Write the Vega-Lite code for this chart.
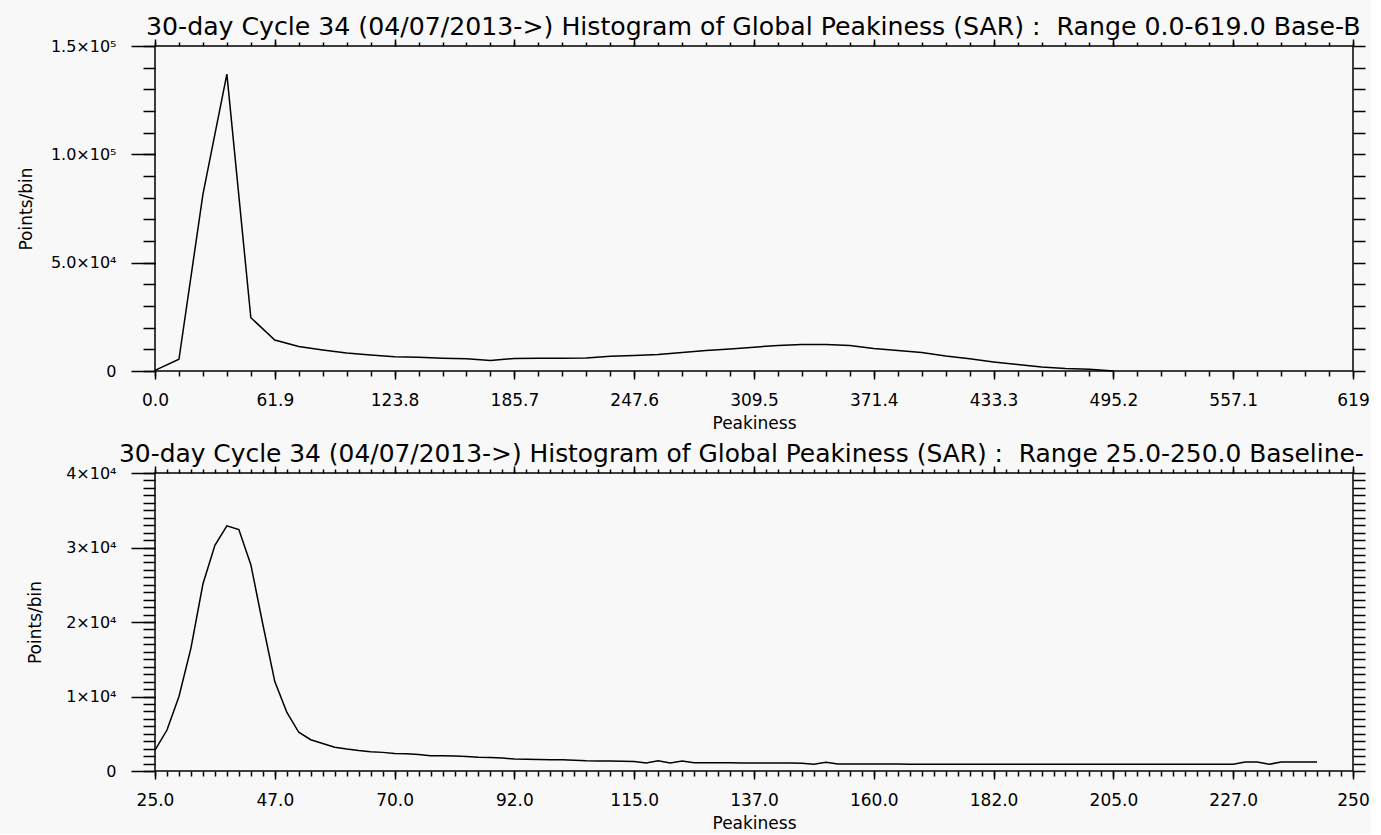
{
  "$schema": "https://vega.github.io/schema/vega-lite/v6.json",
  "background": "#f8f8f8",
  "padding": {"left": 16, "top": 14, "right": 1, "bottom": 2},
  "config": {
    "font": "DejaVu Sans",
    "view": {"stroke": "black", "strokeWidth": 1.5, "fill": null},
    "axis": {"domain": false, "grid": false, "minExtent": 0, "tickColor": "black", "tickWidth": 1.5, "labelColor": "black", "titleColor": "black", "labelFont": "DejaVu Sans", "labelFontSize": 16, "titleFont": "DejaVu Sans", "titleFontSize": 17, "titleFontWeight": "normal", "labelFlush": false, "labelOverlap": false},
    "axisX": {"labelFontSize": 17},
    "title": {"fontWeight": "normal", "color": "black", "anchor": "start", "frame": "group", "font": "DejaVu Sans"}
  },
  "datasets": {
    "top": [
      {"x": 0, "y": 300}, {"x": 12.38, "y": 5400}, {"x": 24.76, "y": 81500}, {"x": 37.14, "y": 137000},
      {"x": 49.52, "y": 24600}, {"x": 61.9, "y": 14300}, {"x": 74.28, "y": 11300}, {"x": 86.66, "y": 9700},
      {"x": 99.04, "y": 8300}, {"x": 111.42, "y": 7400}, {"x": 123.8, "y": 6600}, {"x": 136.18, "y": 6300},
      {"x": 148.56, "y": 5900}, {"x": 160.94, "y": 5600}, {"x": 173.32, "y": 4900}, {"x": 185.7, "y": 5800},
      {"x": 198.08, "y": 5900}, {"x": 210.46, "y": 5900}, {"x": 222.84, "y": 6000}, {"x": 235.22, "y": 6800},
      {"x": 247.6, "y": 7200}, {"x": 259.98, "y": 7600}, {"x": 272.36, "y": 8500}, {"x": 284.74, "y": 9500},
      {"x": 297.12, "y": 10200}, {"x": 309.5, "y": 11000}, {"x": 321.88, "y": 11800}, {"x": 334.26, "y": 12200},
      {"x": 346.64, "y": 12200}, {"x": 359.02, "y": 11800}, {"x": 371.4, "y": 10400}, {"x": 383.78, "y": 9500},
      {"x": 396.16, "y": 8500}, {"x": 408.54, "y": 6900}, {"x": 420.92, "y": 5600}, {"x": 433.3, "y": 4200},
      {"x": 445.68, "y": 3000}, {"x": 458.06, "y": 1800}, {"x": 470.44, "y": 1100}, {"x": 482.82, "y": 800},
      {"x": 495.2, "y": 0}
    ],
    "bottom": [
      {"x": 25, "y": 2800}, {"x": 27.25, "y": 5500}, {"x": 29.5, "y": 10000}, {"x": 31.75, "y": 16500},
      {"x": 34, "y": 25100}, {"x": 36.25, "y": 30300}, {"x": 38.5, "y": 32900}, {"x": 40.75, "y": 32400},
      {"x": 43, "y": 27700}, {"x": 45.25, "y": 19700}, {"x": 47.5, "y": 12000}, {"x": 49.75, "y": 7900},
      {"x": 52, "y": 5200}, {"x": 54.25, "y": 4200}, {"x": 56.5, "y": 3700}, {"x": 58.75, "y": 3200},
      {"x": 61, "y": 2950}, {"x": 63.25, "y": 2750}, {"x": 65.5, "y": 2600}, {"x": 67.75, "y": 2500},
      {"x": 70, "y": 2350}, {"x": 72.25, "y": 2300}, {"x": 74.5, "y": 2200}, {"x": 76.75, "y": 2050},
      {"x": 79, "y": 2050}, {"x": 81.25, "y": 2000}, {"x": 83.5, "y": 1950}, {"x": 85.75, "y": 1850},
      {"x": 88, "y": 1800}, {"x": 90.25, "y": 1750}, {"x": 92.5, "y": 1600}, {"x": 94.75, "y": 1570},
      {"x": 97, "y": 1550}, {"x": 99.25, "y": 1520}, {"x": 101.5, "y": 1500}, {"x": 103.75, "y": 1450},
      {"x": 106, "y": 1370}, {"x": 108.25, "y": 1340}, {"x": 110.5, "y": 1330}, {"x": 112.75, "y": 1300},
      {"x": 115, "y": 1280}, {"x": 117.25, "y": 1080}, {"x": 119.5, "y": 1380}, {"x": 121.75, "y": 1080},
      {"x": 124, "y": 1340}, {"x": 126.25, "y": 1120}, {"x": 128.5, "y": 1100}, {"x": 130.75, "y": 1100},
      {"x": 133, "y": 1100}, {"x": 135.25, "y": 1090}, {"x": 137.5, "y": 1080}, {"x": 139.75, "y": 1080},
      {"x": 142, "y": 1070}, {"x": 144.25, "y": 1060}, {"x": 146.5, "y": 1050}, {"x": 148.75, "y": 900},
      {"x": 151, "y": 1170}, {"x": 153.25, "y": 950}, {"x": 155.5, "y": 940}, {"x": 157.75, "y": 930},
      {"x": 160, "y": 930}, {"x": 162.25, "y": 930}, {"x": 164.5, "y": 930}, {"x": 166.75, "y": 920},
      {"x": 169, "y": 920}, {"x": 171.25, "y": 920}, {"x": 173.5, "y": 920}, {"x": 175.75, "y": 910},
      {"x": 178, "y": 910}, {"x": 180.25, "y": 910}, {"x": 182.5, "y": 910}, {"x": 184.75, "y": 900},
      {"x": 187, "y": 900}, {"x": 189.25, "y": 900}, {"x": 191.5, "y": 900}, {"x": 193.75, "y": 900},
      {"x": 196, "y": 900}, {"x": 198.25, "y": 900}, {"x": 200.5, "y": 900}, {"x": 202.75, "y": 900},
      {"x": 205, "y": 900}, {"x": 207.25, "y": 900}, {"x": 209.5, "y": 900}, {"x": 211.75, "y": 900},
      {"x": 214, "y": 900}, {"x": 216.25, "y": 900}, {"x": 218.5, "y": 900}, {"x": 220.75, "y": 900},
      {"x": 223, "y": 900}, {"x": 225.25, "y": 900}, {"x": 227.5, "y": 900}, {"x": 229.75, "y": 1200},
      {"x": 232, "y": 1200}, {"x": 234.25, "y": 900}, {"x": 236.5, "y": 1200}, {"x": 238.75, "y": 1200},
      {"x": 241, "y": 1200}, {"x": 243.25, "y": 1200}
    ]
  },
  "bounds": "flush",
  "spacing": 102,
  "vconcat": [
    {
      "width": 1198,
      "height": 325,
      "title": {"text": "30-day Cycle 34 (04/07/2013->) Histogram of Global Peakiness (SAR) :\u00a0 Range 0.0-619.0 Base-B", "dx": -9, "offset": -22, "baseline": "alphabetic", "fontSize": 25.2},
      "data": {"name": "top"},
      "layer": [
        {
          "mark": {"type": "line", "color": "black", "strokeWidth": 1.5},
          "encoding": {
            "x": {"field": "x", "type": "quantitative", "scale": {"domain": [0, 619], "nice": false, "zero": false},
              "axis": {"orient": "bottom", "values": [0, 61.9, 123.8, 185.7, 247.6, 309.5, 371.4, 433.3, 495.2, 557.1, 619], "tickSize": 8, "labelPadding": 13, "title": "Peakiness", "titlePadding": 7, "labelExpr": "datum.value >= 619 ? '619' : format(datum.value, '.1f')"}},
            "y": {"field": "y", "type": "quantitative", "scale": {"domain": [0, 150000], "nice": false},
              "axis": {"orient": "left", "values": [0, 50000, 100000, 150000], "tickSize": 24, "labelPadding": 15, "title": "Points/bin", "titlePadding": 15, "labelExpr": "datum.value == 0 ? '0' : (datum.value >= 100000 ? format(datum.value/100000, '.1f') + '×10⁵' : format(datum.value/10000, '.1f') + '×10⁴')"}}
          }
        },
        {
          "mark": {"type": "line", "strokeOpacity": 0},
          "encoding": {
            "x": {"field": "x", "type": "quantitative", "scale": {"domain": [0, 619], "nice": false, "zero": false},
              "axis": {"orient": "bottom", "values": [0,12.38,24.76,37.14,49.52,61.9,74.28,86.66,99.04,111.42,123.8,136.18,148.56,160.94,173.32,185.7,198.08,210.46,222.84,235.22,247.6,259.98,272.36,284.74,297.12,309.5,321.88,334.26,346.64,359.02,371.4,383.78,396.16,408.54,420.92,433.3,445.68,458.06,470.44,482.82,495.2,507.58,519.96,532.34,544.72,557.1,569.48,581.86,594.24,606.62,619], "tickSize": 5, "labels": false, "title": null}},
            "y": {"field": "y", "type": "quantitative", "scale": {"domain": [0, 150000], "nice": false},
              "axis": {"orient": "left", "values": [0,10000,20000,30000,40000,50000,60000,70000,80000,90000,100000,110000,120000,130000,140000,150000], "tickSize": 12, "labels": false, "title": null}}
          }
        },
        {
          "mark": {"type": "line", "strokeOpacity": 0},
          "encoding": {
            "x": {"field": "x", "type": "quantitative", "scale": {"domain": [0, 619], "nice": false, "zero": false},
              "axis": {"orient": "top", "values": [0, 61.9, 123.8, 185.7, 247.6, 309.5, 371.4, 433.3, 495.2, 557.1, 619], "tickSize": 7, "labels": false, "title": null}},
            "y": {"field": "y", "type": "quantitative", "scale": {"domain": [0, 150000], "nice": false},
              "axis": {"orient": "right", "values": [0,10000,20000,30000,40000,50000,60000,70000,80000,90000,100000,110000,120000,130000,140000,150000], "tickSize": 12, "labels": false, "title": null}}
          }
        },
        {
          "mark": {"type": "line", "strokeOpacity": 0},
          "encoding": {
            "x": {"field": "x", "type": "quantitative", "scale": {"domain": [0, 619], "nice": false, "zero": false},
              "axis": {"orient": "top", "values": [0,12.38,24.76,37.14,49.52,61.9,74.28,86.66,99.04,111.42,123.8,136.18,148.56,160.94,173.32,185.7,198.08,210.46,222.84,235.22,247.6,259.98,272.36,284.74,297.12,309.5,321.88,334.26,346.64,359.02,371.4,383.78,396.16,408.54,420.92,433.3,445.68,458.06,470.44,482.82,495.2,507.58,519.96,532.34,544.72,557.1,569.48,581.86,594.24,606.62,619], "tickSize": 4, "labels": false, "title": null}},
            "y": {"field": "y", "type": "quantitative", "scale": {"domain": [0, 150000], "nice": false}, "axis": null}
          }
        }
      ],
      "resolve": {"axis": {"x": "independent", "y": "independent"}}
    },
    {
      "width": 1198,
      "height": 298,
      "title": {"text": "30-day Cycle 34 (04/07/2013->) Histogram of Global Peakiness (SAR) :\u00a0 Range 25.0-250.0 Baseline-", "dx": -36, "offset": -22, "baseline": "alphabetic", "fontSize": 24.9},
      "data": {"name": "bottom"},
      "layer": [
        {
          "mark": {"type": "line", "color": "black", "strokeWidth": 1.5},
          "encoding": {
            "x": {"field": "x", "type": "quantitative", "scale": {"domain": [25, 250], "nice": false, "zero": false},
              "axis": {"orient": "bottom", "values": [25, 47.5, 70, 92.5, 115, 137.5, 160, 182.5, 205, 227.5, 250], "tickSize": 8, "labelPadding": 13, "title": "Peakiness", "titlePadding": 7, "labelExpr": "datum.value >= 250 ? '250' : format(floor(datum.value), '.1f')"}},
            "y": {"field": "y", "type": "quantitative", "scale": {"domain": [0, 40000], "nice": false},
              "axis": {"orient": "left", "values": [0, 10000, 20000, 30000, 40000], "tickSize": 24, "labelPadding": 15, "title": "Points/bin", "titlePadding": 21, "labelExpr": "datum.value == 0 ? '0' : format(datum.value/10000, 'd') + '×10⁴'"}}
          }
        },
        {
          "mark": {"type": "line", "strokeOpacity": 0},
          "encoding": {
            "x": {"field": "x", "type": "quantitative", "scale": {"domain": [25, 250], "nice": false, "zero": false},
              "axis": {"orient": "bottom", "values": [25,27.25,29.5,31.75,34,36.25,38.5,40.75,43,45.25,47.5,49.75,52,54.25,56.5,58.75,61,63.25,65.5,67.75,70,72.25,74.5,76.75,79,81.25,83.5,85.75,88,90.25,92.5,94.75,97,99.25,101.5,103.75,106,108.25,110.5,112.75,115,117.25,119.5,121.75,124,126.25,128.5,130.75,133,135.25,137.5,139.75,142,144.25,146.5,148.75,151,153.25,155.5,157.75,160,162.25,164.5,166.75,169,171.25,173.5,175.75,178,180.25,182.5,184.75,187,189.25,191.5,193.75,196,198.25,200.5,202.75,205,207.25,209.5,211.75,214,216.25,218.5,220.75,223,225.25,227.5,229.75,232,234.25,236.5,238.75,241,243.25,245.5,247.75,250], "tickSize": 5, "labels": false, "title": null}},
            "y": {"field": "y", "type": "quantitative", "scale": {"domain": [0, 40000], "nice": false},
              "axis": {"orient": "left", "values": [0,1000,2000,3000,4000,5000,6000,7000,8000,9000,10000,11000,12000,13000,14000,15000,16000,17000,18000,19000,20000,21000,22000,23000,24000,25000,26000,27000,28000,29000,30000,31000,32000,33000,34000,35000,36000,37000,38000,39000,40000], "tickSize": 12, "labels": false, "title": null}}
          }
        },
        {
          "mark": {"type": "line", "strokeOpacity": 0},
          "encoding": {
            "x": {"field": "x", "type": "quantitative", "scale": {"domain": [25, 250], "nice": false, "zero": false},
              "axis": {"orient": "top", "values": [25, 47.5, 70, 92.5, 115, 137.5, 160, 182.5, 205, 227.5, 250], "tickSize": 7, "labels": false, "title": null}},
            "y": {"field": "y", "type": "quantitative", "scale": {"domain": [0, 40000], "nice": false},
              "axis": {"orient": "right", "values": [0,1000,2000,3000,4000,5000,6000,7000,8000,9000,10000,11000,12000,13000,14000,15000,16000,17000,18000,19000,20000,21000,22000,23000,24000,25000,26000,27000,28000,29000,30000,31000,32000,33000,34000,35000,36000,37000,38000,39000,40000], "tickSize": 12, "labels": false, "title": null}}
          }
        },
        {
          "mark": {"type": "line", "strokeOpacity": 0},
          "encoding": {
            "x": {"field": "x", "type": "quantitative", "scale": {"domain": [25, 250], "nice": false, "zero": false},
              "axis": {"orient": "top", "values": [25,27.25,29.5,31.75,34,36.25,38.5,40.75,43,45.25,47.5,49.75,52,54.25,56.5,58.75,61,63.25,65.5,67.75,70,72.25,74.5,76.75,79,81.25,83.5,85.75,88,90.25,92.5,94.75,97,99.25,101.5,103.75,106,108.25,110.5,112.75,115,117.25,119.5,121.75,124,126.25,128.5,130.75,133,135.25,137.5,139.75,142,144.25,146.5,148.75,151,153.25,155.5,157.75,160,162.25,164.5,166.75,169,171.25,173.5,175.75,178,180.25,182.5,184.75,187,189.25,191.5,193.75,196,198.25,200.5,202.75,205,207.25,209.5,211.75,214,216.25,218.5,220.75,223,225.25,227.5,229.75,232,234.25,236.5,238.75,241,243.25,245.5,247.75,250], "tickSize": 4, "labels": false, "title": null}},
            "y": {"field": "y", "type": "quantitative", "scale": {"domain": [0, 40000], "nice": false}, "axis": null}
          }
        }
      ],
      "resolve": {"axis": {"x": "independent", "y": "independent"}}
    }
  ]
}
